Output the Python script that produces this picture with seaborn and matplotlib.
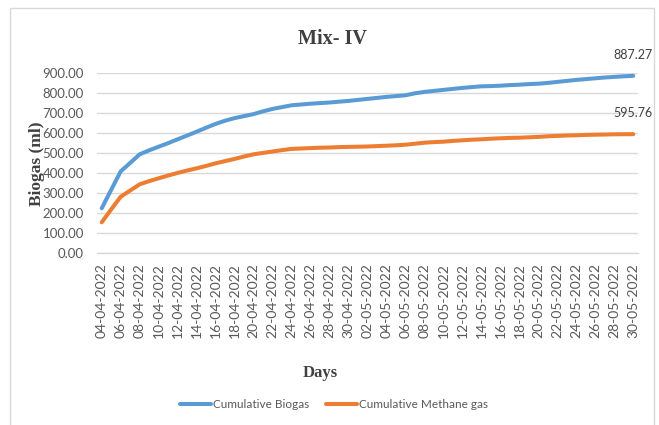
import matplotlib
matplotlib.use("Agg")
import matplotlib.pyplot as plt
from matplotlib.patches import Rectangle
import seaborn as sns
import pandas as pd

# Daily sampling dates (04-04-2022 .. 30-05-2022)
dates = pd.date_range("2022-04-04", "2022-05-30", freq="D").strftime("%d-%m-%Y").tolist()

# Cumulative biogas volume (ml)
biogas = [225, 318, 410, 452, 495, 515, 533, 551, 570, 589,
          608, 628, 647, 663, 676, 686, 696, 710, 722, 731,
          740, 744, 748, 751, 754, 758, 762, 767, 772, 777,
          782, 786, 790, 800, 807, 812, 817, 822, 827, 831,
          835, 836, 838, 841, 843, 846, 848, 852, 857, 862,
          867, 871, 875, 879, 882, 885, 887.27]

# Cumulative methane volume (ml)
methane = [155, 220, 283, 314, 345, 361, 375, 389, 402, 414,
           425, 437, 450, 461, 472, 484, 495, 502, 509, 516,
           522, 524, 526, 528, 529, 531, 532, 533, 534, 536,
           538, 540, 543, 548, 553, 556, 558, 562, 565, 568,
           570, 573, 575, 577, 578, 580, 582, 585, 587, 589,
           590, 592, 593, 594, 595, 595.4, 595.76]

series_names = ["Cumulative Biogas", "Cumulative Methane gas"]
colors = {"Cumulative Biogas": "#5B9BD5", "Cumulative Methane gas": "#ED7D31"}
y_ticks = [0, 100, 200, 300, 400, 500, 600, 700, 800, 900]

df = pd.DataFrame({
    "day": list(range(len(dates))) * 2,
    "value": biogas + methane,
    "series": [series_names[0]] * len(biogas) + [series_names[1]] * len(methane),
})

sns.set_style("white")
plt.rcParams["font.family"] = ["Lato", "DejaVu Sans"]

fig = plt.figure(figsize=(6.59, 4.25), dpi=100)
ax = fig.add_axes([97 / 659, 1 - 253.3 / 425, (638 - 97) / 659, (253.3 - 73.3) / 425])

sns.lineplot(data=df, x="day", y="value", hue="series", palette=colors,
             linewidth=2.9, ax=ax, legend=False)

ax.set_xlim(-0.5, len(dates) - 0.5)
ax.set_ylim(0, 900)
ax.set_yticks(y_ticks)
ax.set_yticklabels([f"{v:.2f}" for v in y_ticks], fontsize=9.5, color="#595959")
ax.set_xticks(list(range(0, len(dates), 2)))
ax.set_xticklabels(dates[::2], rotation=90, fontsize=10, color="#595959")
ax.tick_params(axis="both", length=0)
ax.tick_params(axis="y", pad=9.5)
ax.tick_params(axis="x", pad=7)
ax.grid(axis="y", color="#d9d9d9", linewidth=1)
ax.set_axisbelow(True)
for side in ["left", "right", "top"]:
    ax.spines[side].set_visible(False)
ax.spines["bottom"].set_color("#d9d9d9")
ax.spines["bottom"].set_linewidth(1)

ax.set_xlabel("")
ax.set_ylabel("Biogas (ml)", family="Liberation Serif", fontweight="bold",
              fontsize=12.5, color="#404040")
ax.yaxis.set_label_coords(-0.096, 0.5)

# End-of-period value labels
last = len(dates) - 1
for vals in (biogas, methane):
    ax.annotate(f"{vals[-1]:.2f}", xy=(last, vals[-1]), xytext=(0, 15),
                textcoords="offset points", ha="center", va="center",
                fontsize=9, color="#404040", annotation_clip=False)

fig.text(332 / 659, 1 - 39 / 425, "Mix- IV", family="Liberation Serif",
         fontweight="bold", fontsize=14.5, color="#404040", ha="center", va="center")
fig.text(320 / 659, 1 - 373 / 425, "Days", family="Liberation Serif",
         fontweight="bold", fontsize=12, color="#404040", ha="center", va="center")

handles = [plt.Line2D([], [], color=colors[n], linewidth=2.9) for n in series_names]
leg = fig.legend(handles, series_names, loc="center", bbox_to_anchor=(334 / 659, 1 - 405 / 425),
                 ncol=2, frameon=False, fontsize=8.5, handlelength=2.6,
                 handletextpad=0.2, columnspacing=1.4)
for t in leg.get_texts():
    t.set_color("#595959")

# Chart border
fig.patches.append(Rectangle((10 / 659, -0.05), (654 - 10) / 659, 1.05 - 8 / 425,
                             transform=fig.transFigure, fill=False,
                             edgecolor="#d9d9d9", linewidth=1))

fig.savefig("out.png", dpi=100, facecolor="white")
